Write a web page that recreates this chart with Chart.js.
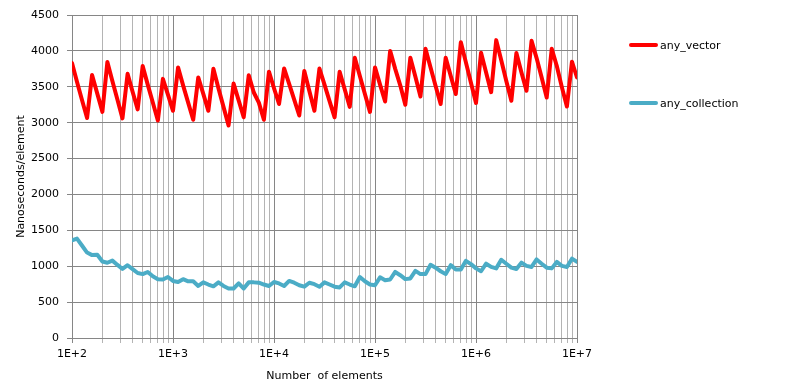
<!DOCTYPE html>
<html>
<head>
<meta charset="utf-8">
<script src="https://cdn.jsdelivr.net/npm/chart.js@4/dist/chart.umd.min.js"></script>
<style>
  html, body { margin: 0; padding: 0; background: #ffffff; }
  #wrap { width: 795px; height: 390px; position: relative; }
</style>
</head>
<body>
<div id="wrap"><canvas id="c" width="795" height="390"></canvas></div>
<script>
// ---- data ----
const elementCounts = [
  100,112,126,141,158,178,200,224,251,282,316,355,398,447,501,562,631,708,794,891,
  1000,1122,1259,1413,1585,1778,1995,2239,2512,2818,3162,3548,3981,4467,5012,5623,6310,7079,7943,8913,
  10000,11220,12589,14125,15849,17783,19953,22387,25119,28184,31623,35481,39811,44668,50119,56234,63096,70795,79433,89125,
  100000,112202,125893,141254,158489,177828,199526,223872,251189,281838,316228,354813,398107,446684,501187,562341,630957,707946,794328,891251,
  1000000,1122018,1258925,1412538,1584893,1778279,1995262,2238721,2511886,2818383,3162278,3548134,3981072,4466836,5011872,5623413,6309573,7079458,7943282,8912509,
  10000000
];

const anyVector = [
  3830,3570,3310,3065,3665,3405,3150,3845,3580,3320,
  3060,3680,3430,3185,3790,3530,3280,3030,3610,3390,
  3165,3770,3520,3280,3040,3630,3400,3165,3750,3480,
  3220,2960,3545,3310,3075,3660,3420,3280,3040,3710,
  3480,3260,3755,3540,3320,3100,3720,3440,3165,3755,
  3530,3300,3075,3710,3465,3220,3905,3650,3400,3150,
  3770,3530,3295,4000,3750,3520,3250,3905,3640,3365,
  4030,3770,3510,3260,3905,3650,3400,4120,3840,3555,
  3275,3975,3700,3425,4150,3870,3580,3305,3970,3700,
  3445,4140,3900,3630,3350,4030,3790,3495,3225,3850,
  3630
];

const anyCollection = [
  1360,1385,1285,1190,1155,1160,1065,1048,1078,1018,
  962,1014,960,905,890,920,860,820,815,850,
  795,780,820,790,790,725,775,745,720,775,
  725,690,690,760,690,775,775,770,745,725,
  780,760,725,795,770,735,715,770,750,715,
  775,745,715,705,775,745,720,850,790,745,
  735,845,805,815,920,875,820,830,935,890,
  890,1020,980,930,890,1015,955,955,1075,1030,
  970,930,1035,990,970,1090,1035,980,960,1050,
  1005,990,1095,1035,980,970,1060,1005,990,1105,
  1060
];

const seriesNames = ['any_vector', 'any_collection'];
const seriesColors = ['#ff0000', '#4bacc6'];

const decadeValues = [100, 1000, 10000, 100000, 1000000, 10000000];
const decadeLabels = ['1E+2', '1E+3', '1E+4', '1E+5', '1E+6', '1E+7'];
const yTickStep = 500;
const yMin = 0, yMax = 4500;

const xTitle = 'Number  of elements';
const yTitle = 'Nanoseconds/element';

// ---- helpers ----
function decadeIndex(v) {
  for (let i = 0; i < decadeValues.length; i++) {
    if (Math.abs(v - decadeValues[i]) / decadeValues[i] < 1e-9) return i;
  }
  return -1;
}
const gridValues = [];
for (let d = 0; d < decadeValues.length - 1; d++) {
  for (let m = 1; m <= 9; m++) gridValues.push(decadeValues[d] * m);
}
gridValues.push(decadeValues[decadeValues.length - 1]);

const FONT = 'DejaVu Sans';
const MAJOR = '#868686';
const MINOR = '#b4b4b4';

const legendPlugin = {
  id: 'sideLegend',
  afterDraw(chart) {
    const ctx = chart.ctx;
    const rows = [45, 103];
    ctx.save();
    chart.data.datasets.forEach((ds, i) => {
      const y = rows[i];
      ctx.beginPath();
      ctx.lineCap = 'round';
      ctx.lineWidth = 4;
      ctx.strokeStyle = ds.borderColor;
      ctx.moveTo(631, y);
      ctx.lineTo(656, y);
      ctx.stroke();
      ctx.fillStyle = '#000000';
      ctx.font = '11px "' + FONT + '"';
      ctx.textBaseline = 'middle';
      ctx.textAlign = 'left';
      ctx.fillText(ds.label, 660, y + 1);
    });
    ctx.restore();
  }
};

const toPoints = (ys) => ys.map((y, i) => ({ x: elementCounts[i], y: y }));

new Chart(document.getElementById('c'), {
  type: 'line',
  data: {
    datasets: [
      {
        label: seriesNames[0],
        data: toPoints(anyVector),
        borderColor: seriesColors[0],
        backgroundColor: seriesColors[0],
        borderWidth: 4,
        pointRadius: 0,
        tension: 0,
        borderJoinStyle: 'round',
        borderCapStyle: 'round',
        fill: false
      },
      {
        label: seriesNames[1],
        data: toPoints(anyCollection),
        borderColor: seriesColors[1],
        backgroundColor: seriesColors[1],
        borderWidth: 4,
        pointRadius: 0,
        tension: 0,
        borderJoinStyle: 'round',
        borderCapStyle: 'round',
        fill: false
      }
    ]
  },
  options: {
    responsive: false,
    animation: false,
    devicePixelRatio: 1,
    layout: { padding: { left: 0, top: 15, right: 218, bottom: 0 } },
    plugins: {
      legend: { display: false },
      tooltip: { enabled: false }
    },
    scales: {
      x: {
        type: 'logarithmic',
        position: 'bottom',
        min: 100,
        max: 10000000,
        afterBuildTicks(scale) {
          scale.ticks = gridValues.map(v => ({ value: v, major: decadeIndex(v) >= 0 }));
        },
        afterFit(scale) { scale.height = 52; },
        ticks: {
          autoSkip: false,
          maxRotation: 0,
          minRotation: 0,
          padding: 5,
          color: '#000000',
          font: { family: FONT, size: 11 },
          callback(value) {
            const i = decadeIndex(value);
            return i >= 0 ? decadeLabels[i] : '';
          }
        },
        grid: {
          color(ctx) {
            const v = ctx.tick ? ctx.tick.value : 0;
            return decadeIndex(v) >= 0 ? MAJOR : MINOR;
          },
          lineWidth: 1,
          drawTicks: true,
          tickLength: 5
        },
        border: { color: MAJOR, width: 1 },
        title: {
          display: true,
          text: xTitle,
          color: '#000000',
          font: { family: FONT, size: 11 },
          padding: { top: 0, bottom: 7 }
        }
      },
      y: {
        type: 'linear',
        min: yMin,
        max: yMax,
        afterFit(scale) { scale.width = 72; },
        ticks: {
          stepSize: yTickStep,
          padding: 8,
          color: '#000000',
          font: { family: FONT, size: 11 },
          callback(value) { return String(value); }
        },
        grid: {
          color: MAJOR,
          lineWidth: 1,
          drawTicks: true,
          tickLength: 5
        },
        border: { color: MAJOR, width: 1 },
        title: {
          display: true,
          text: yTitle,
          color: '#000000',
          font: { family: FONT, size: 11 },
          padding: { top: 15, bottom: 0 }
        }
      }
    }
  },
  plugins: [legendPlugin]
});
</script>
</body>
</html>
